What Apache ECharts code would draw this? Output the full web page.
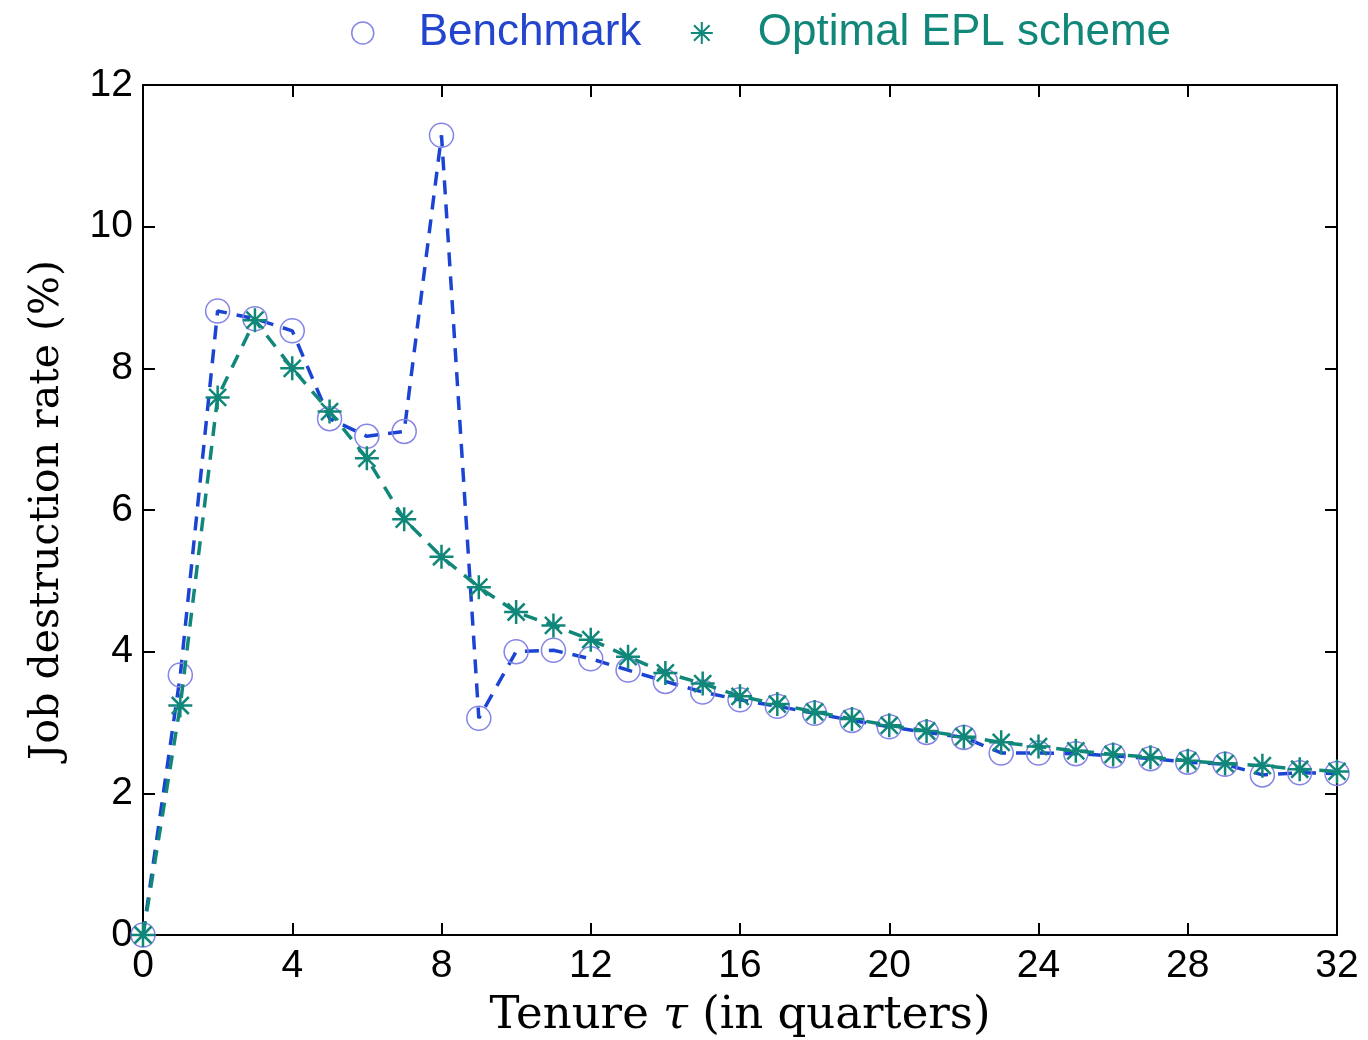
<!DOCTYPE html>
<html>
<head>
<meta charset="utf-8">
<script src="https://cdn.jsdelivr.net/npm/echarts@6/dist/echarts.min.js"></script>
<style>
  html, body { margin: 0; padding: 0; background: #fff; }
  #chart { width: 1368px; height: 1040px; }
</style>
</head>
<body>
<div id="chart"></div>
<script>
const tenure = [0, 1, 2, 3, 4, 5, 6, 7, 8, 9, 10, 11, 12, 13, 14, 15, 16,
  17, 18, 19, 20, 21, 22, 23, 24, 25, 26, 27, 28, 29, 30, 31, 32];
const benchmark = [0, 3.67, 8.81, 8.70, 8.53, 7.29, 7.04, 7.11, 11.29, 3.06,
  4.00, 4.02, 3.90, 3.74, 3.58, 3.43, 3.32, 3.23, 3.13, 3.03, 2.94, 2.86,
  2.79, 2.57, 2.57, 2.56, 2.53, 2.49, 2.44, 2.41, 2.26, 2.29, 2.28];
const optimalEpl = [0, 3.24, 7.59, 8.68, 8.00, 7.39, 6.73, 5.87, 5.34, 4.91,
  4.56, 4.37, 4.17, 3.93, 3.70, 3.55, 3.37, 3.26, 3.15, 3.05, 2.96, 2.88,
  2.80, 2.72, 2.66, 2.60, 2.55, 2.51, 2.46, 2.42, 2.39, 2.34, 2.31];
const xTicks = { min: 0, max: 32, interval: 4 };
const yTicks = { min: 0, max: 12, interval: 2 };

const BLUE_LINE = "#1c44d2";
const BLUE_MARK = "#8585e6";
const BLUE_TEXT = "#2344cc";
const TEAL = "#11877a";
const STAR = "path://M12 0V24M0 12H24M3.5 3.5L20.5 20.5M3.5 20.5L20.5 3.5";
const SANS = "Liberation Sans, Arial, sans-serif";
const SERIF = "DejaVu Serif, Liberation Serif, serif";

const pairs = (ys) => tenure.map((x, i) => [x, ys[i]]);

const frameAxis = (extra) => ({
  type: "value",
  axisLine: { show: true, onZero: false, lineStyle: { color: "#000", width: 2 } },
  axisTick: { show: true, inside: true, length: 12, lineStyle: { color: "#000", width: 2 } },
  splitLine: { show: false },
  ...extra
});

const chart = echarts.init(document.getElementById("chart"), null, { renderer: "canvas" });

chart.setOption({
  animation: false,
  backgroundColor: "#fff",
  grid: { left: 143, right: 31, top: 85, bottom: 105, outerBoundsMode: "none", containLabel: false },
  legend: {
    left: 346,
    top: 6,
    itemWidth: 102,
    itemHeight: 22,
    itemGap: 47,
    textStyle: { fontFamily: SANS, fontSize: 44 },
    data: [
      {
        name: "Benchmark",
        icon: "circle",
        itemStyle: { color: "#fff", borderColor: BLUE_MARK, borderWidth: 1.5 },
        textStyle: { color: BLUE_TEXT, fontFamily: SANS, fontSize: 44 }
      },
      {
        name: "Optimal EPL scheme",
        icon: STAR,
        itemStyle: { color: "none", borderColor: TEAL, borderWidth: 2 },
        textStyle: { color: TEAL, fontFamily: SANS, fontSize: 44 }
      }
    ]
  },
  xAxis: [
    frameAxis({
      position: "bottom",
      ...xTicks,
      axisLabel: { color: "#000", fontFamily: SANS, fontSize: 39, margin: 12 },
      name: "{a|Tenure }{t|τ}{a| (in quarters)}",
      nameLocation: "middle",
      nameGap: 59,
      nameTextStyle: {
        rich: {
          a: { fontFamily: SERIF, fontSize: 45, color: "#000" },
          t: { fontFamily: SERIF, fontSize: 45, fontStyle: "italic", color: "#000" }
        }
      }
    }),
    frameAxis({ position: "top", ...xTicks, axisLabel: { show: false } })
  ],
  yAxis: [
    frameAxis({
      position: "left",
      ...yTicks,
      axisLabel: { color: "#000", fontFamily: SANS, fontSize: 39, margin: 10 },
      name: "Job destruction rate (%)",
      nameLocation: "middle",
      nameGap: 75,
      nameTextStyle: { fontFamily: SERIF, fontSize: 41, color: "#000" }
    }),
    frameAxis({ position: "right", ...yTicks, axisLabel: { show: false } })
  ],
  series: [
    {
      name: "Benchmark",
      type: "line",
      data: pairs(benchmark),
      symbol: "circle",
      symbolSize: 24,
      itemStyle: { color: "rgba(0,0,0,0)", borderColor: BLUE_MARK, borderWidth: 1.5 },
      lineStyle: { color: BLUE_LINE, width: 3.5, type: [14, 10] },
      z: 2
    },
    {
      name: "Optimal EPL scheme",
      type: "line",
      data: pairs(optimalEpl),
      symbol: STAR,
      symbolSize: 24,
      itemStyle: { color: "none", borderColor: TEAL, borderWidth: 2.5 },
      lineStyle: { color: TEAL, width: 3.5, type: [14, 10] },
      z: 3
    }
  ]
});
</script>
</body>
</html>
